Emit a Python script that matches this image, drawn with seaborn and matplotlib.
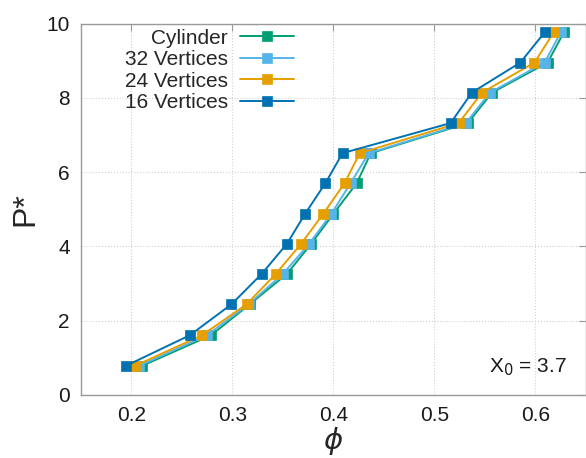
import pandas as pd
import matplotlib
matplotlib.use("Agg")
import matplotlib.pyplot as plt
import seaborn as sns

# values
p_star = [0.79, 1.61, 2.44, 3.26, 4.07, 4.88, 5.70, 6.51, 7.32, 8.14, 8.95, 9.76]
phi_cyl = [0.211, 0.279, 0.317, 0.354, 0.378, 0.400, 0.423, 0.437, 0.533, 0.557, 0.612, 0.628]
phi_32 = [0.208, 0.275, 0.316, 0.350, 0.376, 0.398, 0.417, 0.435, 0.531, 0.555, 0.609, 0.625]
phi_24 = [0.204, 0.270, 0.314, 0.343, 0.368, 0.390, 0.411, 0.426, 0.524, 0.547, 0.599, 0.618]
phi_16 = [0.195, 0.258, 0.299, 0.329, 0.354, 0.372, 0.392, 0.409, 0.516, 0.537, 0.585, 0.609]
labels = ["Cylinder", "32 Vertices", "24 Vertices", "16 Vertices"]
colors = ["#009E73", "#56B4E9", "#E69F00", "#0072B2"]
x_ticks = [0.2, 0.3, 0.4, 0.5, 0.6]
y_ticks = [0, 2, 4, 6, 8, 10]

rows = []
for lab, xs in zip(labels, [phi_cyl, phi_32, phi_24, phi_16]):
    for x, y in zip(xs, p_star):
        rows.append({"phi": x, "P": y, "case": lab})
df = pd.DataFrame(rows)

sns.set_style("white")
plt.rcParams["font.family"] = ["Liberation Sans", "DejaVu Sans"]
plt.rcParams["mathtext.fontset"] = "dejavusans"

fig = plt.figure(figsize=(5.86, 4.58), dpi=100)
ax = fig.add_axes([0.138, 0.1376, 0.862, 0.811])

sns.lineplot(data=df, x="phi", y="P", hue="case", hue_order=labels,
             palette=colors, style="case", markers=["s"] * 4, dashes=False,
             sort=False, estimator=None, linewidth=1.4, markersize=7.5,
             ax=ax)
# marker edges in the line colour, not white
for ln in ax.lines:
    ln.set_markeredgecolor(ln.get_color())
    ln.set_markeredgewidth(0.5)

ax.set_xlim(0.15, 0.65)
ax.set_ylim(0, 10)
ax.set_xticks(x_ticks)
ax.set_yticks(y_ticks)
ax.set_xticklabels([f"{t:.1f}" for t in x_ticks])
ax.grid(True, linestyle=":", color="#d0d0d0", linewidth=0.8)
for s in ax.spines.values():
    s.set_color("#999999")
    s.set_linewidth(1.0)
ax.tick_params(direction="in", top=True, right=True, length=5, width=0.8,
               color="#999999", labelsize=15, labelcolor="#1a1a1a")
ax.tick_params(axis="x", pad=8)
ax.tick_params(axis="y", pad=8)

ax.set_xlabel(r"$\phi$", fontsize=21, labelpad=0)
ax.set_ylabel("P*", fontsize=23, labelpad=4)

ax.text(0.962, 0.062, r"X$_0$ = 3.7", transform=ax.transAxes,
        ha="right", va="baseline", fontsize=15, color="#1a1a1a")

leg = ax.legend(loc="upper left", bbox_to_anchor=(0.062, 1.02), frameon=False,
                markerfirst=False, fontsize=15, handlelength=2.6,
                labelspacing=0.12, handletextpad=0.6, borderaxespad=0.2)
for h in leg.legend_handles:
    h.set_markeredgecolor(h.get_color())
    h.set_markeredgewidth(0.5)

fig.savefig("out.png", dpi=100)
